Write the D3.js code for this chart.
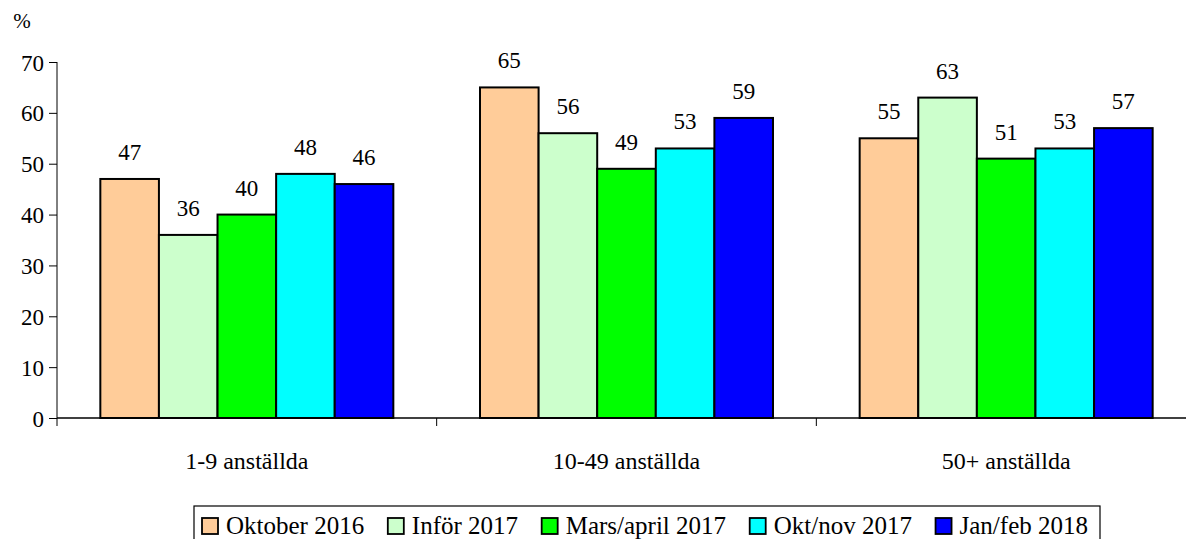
<!DOCTYPE html>
<html><head><meta charset="utf-8">
<script src="https://cdn.jsdelivr.net/npm/d3@7"></script>
<style>body{margin:0;background:#fff}svg{display:block}</style>
</head><body>
<script>
const categories = ["1-9 anställda", "10-49 anställda", "50+ anställda"];
const seriesNames = ["Oktober 2016", "Inför 2017", "Mars/april 2017", "Okt/nov 2017", "Jan/feb 2018"];
const seriesColors = ["#FFCC99", "#CCFFCC", "#00FF00", "#00FFFF", "#0000FF"];
const values = [
  [47, 65, 55],
  [36, 56, 63],
  [40, 49, 51],
  [48, 53, 53],
  [46, 59, 57]
];
const yTicks = [0, 10, 20, 30, 40, 50, 60, 70];

const FONT = "Liberation Serif";
const W = 1186, H = 539;
const svg = d3.select("body").append("svg").attr("width", W).attr("height", H)
  .attr("font-family", FONT);
const mLeft = 57, mRight = 1196, mTop = 62, mBottom = 418;

const x = d3.scaleBand().domain(categories).range([mLeft, mRight]).paddingInner(0).paddingOuter(0);
const y = d3.scaleLinear().domain([0, 70]).range([mBottom, mTop]);
const groupW = 293;
const xs = d3.scaleBand().domain(seriesNames).range([0, groupW]).padding(0);

function txt(sel, size) { return sel.attr("font-family", FONT).attr("font-size", size).attr("fill", "#000"); }

// bars
seriesNames.forEach((s, si) => {
  categories.forEach((c, ci) => {
    const v = values[si][ci];
    const bx = x(c) + (x.bandwidth() - groupW) / 2 + xs(s);
    svg.append("rect")
      .attr("x", bx).attr("y", y(v))
      .attr("width", xs.bandwidth()).attr("height", y(0) - y(v))
      .attr("fill", seriesColors[si]).attr("stroke", "#000").attr("stroke-width", 2);
    txt(svg.append("text"), 23)
      .attr("x", bx + xs.bandwidth() / 2).attr("y", y(v) - 19)
      .attr("text-anchor", "middle").text(v);
  });
});

// y axis
const ya = svg.append("g").attr("transform", `translate(${mLeft},0)`)
  .call(d3.axisLeft(y).tickValues(yTicks).tickSize(8).tickPadding(5));
ya.attr("font-family", FONT).attr("font-size", 23);
ya.selectAll("path").attr("d", `M0,${mTop}V${mBottom}`).attr("stroke", "#000");
ya.selectAll("line").attr("stroke", "#000");
txt(ya.selectAll("text"), 23).attr("dy", "0.35em");

// x axis
const xa = svg.append("g").attr("transform", `translate(0,${mBottom})`);
xa.append("line").attr("x1", mLeft).attr("x2", W).attr("y1", 0).attr("y2", 0).attr("stroke", "#000").attr("stroke-width", 1.5);
const bounds = categories.map(c => x(c)).concat([x(categories[categories.length - 1]) + x.bandwidth()]);
bounds.forEach(b => xa.append("line").attr("x1", b).attr("x2", b).attr("y1", 0).attr("y2", 8).attr("stroke", "#000"));
categories.forEach(c => txt(xa.append("text"), 24).attr("x", x(c) + x.bandwidth() / 2).attr("y", 51)
  .attr("text-anchor", "middle").text(c));

txt(svg.append("text"), 21).attr("x", 22).attr("y", 28).attr("text-anchor", "middle").text("%");

// legend
const lg = svg.append("g");
lg.append("rect").attr("x", 194).attr("y", 506).attr("width", 906).attr("height", 50)
  .attr("fill", "#fff").attr("stroke", "#000").attr("stroke-width", 1.2);
const legStart = 202, legEnd = 1088, sw = 16, swGap = 8;
const items = seriesNames.map((s, i) => {
  const g = lg.append("g");
  g.append("rect").attr("x", 0).attr("y", 518).attr("width", sw).attr("height", sw)
    .attr("fill", seriesColors[i]).attr("stroke", "#000").attr("stroke-width", 1.8);
  const t = txt(g.append("text"), 25).attr("x", sw + swGap).attr("y", 534).text(s);
  return { g, w: sw + swGap + t.node().getComputedTextLength() };
});
const totalW = d3.sum(items, d => d.w);
const gap = (legEnd - legStart - totalW) / (items.length - 1);
let cx = legStart;
items.forEach(it => { it.g.attr("transform", `translate(${cx},0)`); cx += it.w + gap; });
</script>
</body></html>
